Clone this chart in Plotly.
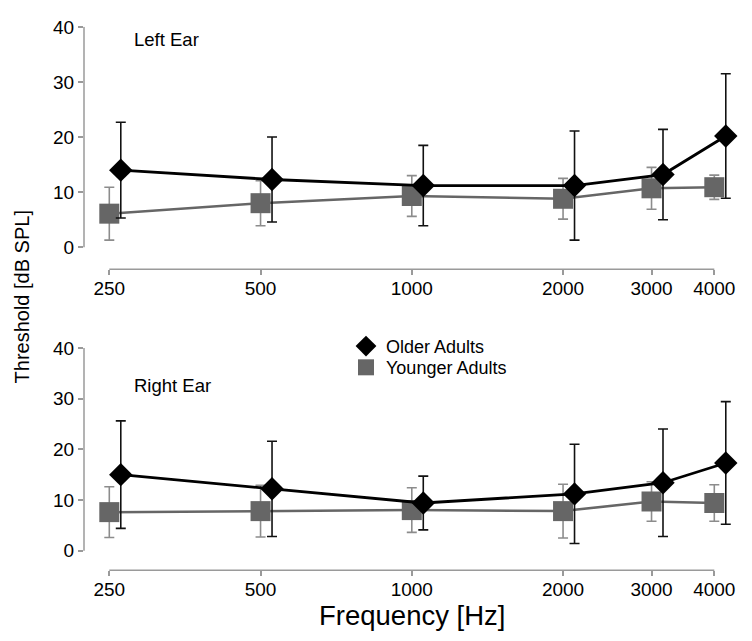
import plotly.graph_objects as go
import math

freqs = [250, 500, 1000, 2000, 3000, 4000]
tick_labels = ["250", "500", "1000", "2000", "3000", "4000"]
y_ticks = [0, 10, 20, 30, 40]

left_older = [14.0, 12.3, 11.2, 11.2, 13.2, 20.2]
left_older_sd = [8.7, 7.7, 7.3, 9.9, 8.2, 11.3]
left_younger = [6.1, 8.0, 9.3, 8.8, 10.7, 10.9]
left_younger_sd = [4.8, 4.1, 3.7, 3.7, 3.8, 2.2]

right_older = [15.0, 12.2, 9.4, 11.2, 13.4, 17.3]
right_older_sd = [10.6, 9.4, 5.3, 9.8, 10.6, 12.1]
right_younger = [7.6, 7.8, 8.0, 7.8, 9.7, 9.4]
right_younger_sd = [5.0, 5.1, 4.4, 5.3, 3.9, 3.6]

OFFSET = 1.054  # horizontal dodge for older adults
PAGE_MARGIN = 8  # default body margin of the html page
W, H = 752 - 2 * PAGE_MARGIN, 641 - 2 * PAGE_MARGIN
FONT = "Liberation Sans, Arial, Helvetica, sans-serif"
AXC = "#9a9a9a"
GRAY = "#666666"
GRAY_ERR = "#8c8c8c"


def px(v):  # page pixel -> figure pixel
    return v - PAGE_MARGIN


def fx(v):  # page x pixel -> paper fraction
    return px(v) / W


def fy(v):  # page y pixel -> paper fraction
    return 1 - px(v) / H


older_x = [f * OFFSET for f in freqs]

fig = go.Figure()

panels = [
    ("x", "y", left_older, left_older_sd, left_younger, left_younger_sd),
    ("x2", "y2", right_older, right_older_sd, right_younger, right_younger_sd),
]
for xa, ya, old, old_sd, yng, yng_sd in panels:
    fig.add_trace(go.Scatter(
        x=freqs, y=yng, xaxis=xa, yaxis=ya, mode="lines+markers",
        line=dict(color=GRAY, width=2.5),
        marker=dict(symbol="square", size=20, color=GRAY),
        error_y=dict(type="data", array=yng_sd, color=GRAY_ERR, thickness=1.6, width=5),
        showlegend=False, cliponaxis=False))
    fig.add_trace(go.Scatter(
        x=older_x, y=old, xaxis=xa, yaxis=ya, mode="lines+markers",
        line=dict(color="black", width=2.8),
        marker=dict(symbol="diamond", size=18, color="black"),
        error_y=dict(type="data", array=old_sd, color="#111111", thickness=1.6, width=5),
        showlegend=False, cliponaxis=False))

# legend-only entries (each in its own legend box for exact placement)
fig.add_trace(go.Scatter(x=[None], y=[None], xaxis="x2", yaxis="y2", mode="markers",
                         marker=dict(symbol="diamond", size=17, color="black"),
                         name="Older Adults", legend="legend"))
fig.add_trace(go.Scatter(x=[None], y=[None], xaxis="x2", yaxis="y2", mode="markers",
                         marker=dict(symbol="square", size=19, color=GRAY),
                         name="Younger Adults", legend="legend2"))

# geometry (page pixels)
x_left_px, x_right_px = 84.0, 744.0
px250, px4000 = 109.3, 714.3
per_px = (math.log10(max(freqs)) - math.log10(min(freqs))) / (px4000 - px250)
xr = [math.log10(min(freqs)) - (px250 - x_left_px) * per_px,
      math.log10(max(freqs)) + (x_right_px - px4000) * per_px]
xdom = [fx(x_left_px), fx(x_right_px)]


def ax_x(dom_anchor):
    return dict(type="log", range=xr, domain=xdom, anchor=dom_anchor,
                showgrid=False, zeroline=False, showline=False,
                tickvals=freqs, ticktext=tick_labels, ticks="outside",
                ticklen=5, tickwidth=1.5, tickcolor=AXC, ticklabelstandoff=-3,
                tickfont=dict(size=19, color="black", family=FONT))


def ax_y(top_px, zero_px, axis_px, dom_anchor):
    ppu = (zero_px - top_px) / 40.0
    ymin = -(axis_px - zero_px) / ppu
    return dict(range=[ymin, 40], domain=[fy(axis_px), fy(top_px)],
                anchor=dom_anchor, showgrid=False, zeroline=False, showline=False,
                tickvals=y_ticks, ticks="outside", ticklen=5, tickwidth=1.5,
                tickcolor=AXC, tickfont=dict(size=19, color="black", family=FONT))


leg_common = dict(xanchor="left", yanchor="middle", bgcolor="rgba(0,0,0,0)",
                  font=dict(size=18, family=FONT, color="black"), itemwidth=30,
                  borderwidth=0)
fig.update_layout(
    width=W, height=H,
    margin=dict(l=0, r=0, t=0, b=0),
    paper_bgcolor="white", plot_bgcolor="white",
    font=dict(family=FONT, color="black"),
    xaxis=ax_x("y"),
    yaxis=ax_y(17.0, 241.0, 263.3, "x"),
    xaxis2=ax_x("y2"),
    yaxis2=ax_y(343.3, 549.3, 569.3, "x2"),
    legend=dict(x=fx(346), y=fy(341.7), **leg_common),
    legend2=dict(x=fx(346), y=fy(363.3), **leg_common),
)

# R-style detached axis lines
shapes = []
for xa, ya in [("x", "y"), ("x2", "y2")]:
    shapes.append(dict(type="line", xref=f"{xa} domain", yref=ya, x0=0, x1=0,
                       y0=min(y_ticks), y1=max(y_ticks), line=dict(color=AXC, width=1.5)))
    shapes.append(dict(type="line", xref=xa, yref=f"{ya} domain", x0=min(freqs), x1=max(freqs),
                       y0=0, y1=0, line=dict(color=AXC, width=1.5)))
fig.update_layout(shapes=shapes)

anns = [
    dict(text="Left Ear", x=fx(131.5), y=fy(30), xanchor="left", yanchor="middle",
         font=dict(size=18.5)),
    dict(text="Right Ear", x=fx(131.5), y=fy(381), xanchor="left", yanchor="middle",
         font=dict(size=18.5)),
    dict(text="Threshold [dB SPL]", x=fx(22), y=fy(292), xanchor="center", yanchor="middle",
         textangle=-90, font=dict(size=20)),
    dict(text="Frequency [Hz]", x=fx(411.7), y=fy(615), xanchor="center", yanchor="middle",
         font=dict(size=27.5)),
]
for a in anns:
    a.update(xref="paper", yref="paper", showarrow=False)
fig.update_layout(annotations=anns)

fig.write_html("out.html")
